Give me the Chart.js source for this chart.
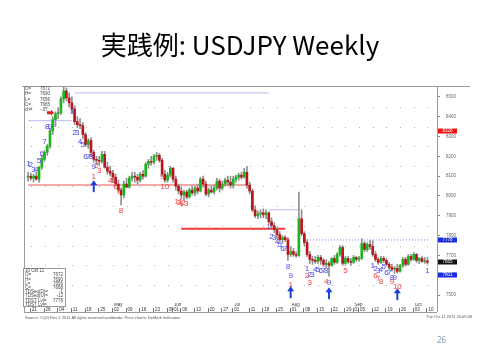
<!DOCTYPE html>
<html><head><meta charset="utf-8">
<script src="https://cdn.jsdelivr.net/npm/chart.js@4"></script>
<style>
html,body{margin:0;padding:0;background:#fff;width:480px;height:360px;overflow:hidden}
#title{position:absolute;left:0;top:31px;width:480px;text-align:center;font-family:"Noto Sans CJK JP";font-size:26px;line-height:26px;color:#000;white-space:nowrap}
#page{position:absolute;left:437px;top:335px;font-family:"Noto Sans";font-size:8px;line-height:10px;color:#8497b0}
canvas{position:absolute;left:0;top:0}
</style></head><body>
<canvas id="c" width="480" height="360"></canvas>
<div id="title">実践例: USDJPY Weekly</div>
<div id="page">26</div>
<script>
const dates = ['3/18','3/21','3/22','3/23','3/24','3/25','3/28','3/29','3/30','3/31','4/1',
'4/4','4/5','4/6','4/7','4/8','4/11','4/12','4/13','4/14','4/15','4/18','4/19','4/20','4/21','4/22','4/25','4/26','4/27','4/28','4/29',
'5/2','5/3','5/4','5/5','5/6','5/9','5/10','5/11','5/12','5/13','5/16','5/17','5/18','5/19','5/20','5/23','5/24','5/25','5/26','5/27','5/30','5/31',
'6/1','6/2','6/3','6/6','6/7','6/8','6/9','6/10','6/13','6/14','6/15','6/16','6/17','6/20','6/21','6/22','6/23','6/24','6/27','6/28','6/29','6/30',
'7/1','7/4','7/5','7/6','7/7','7/8','7/11','7/12','7/13','7/14','7/15','7/18','7/19','7/20','7/21','7/22','7/25','7/26','7/27','7/28','7/29',
'8/1','8/2','8/3','8/4','8/5','8/8','8/9','8/10','8/11','8/12','8/15','8/16','8/17','8/18','8/19','8/22','8/23','8/24','8/25','8/26','8/29','8/30','8/31',
'9/1','9/2','9/5','9/6','9/7','9/8','9/9','9/12','9/13','9/14','9/15','9/16','9/19','9/20','9/21','9/22','9/23','9/26','9/27','9/28','9/29','9/30',
'10/3','10/4','10/5','10/6','10/7','10/10'];
const opens = [80.95,81.00,80.90,81.00,80.85,81.45,81.85,82.20,82.50,83.30,83.85,
84.15,84.20,84.90,85.30,84.95,84.70,84.40,83.75,83.60,83.55,83.10,82.60,82.80,82.20,81.85,81.80,81.75,82.10,81.45,81.25,
81.15,80.95,80.60,80.30,80.05,80.60,80.45,80.90,81.00,80.95,80.80,81.10,81.00,81.60,81.75,81.70,82.00,82.05,81.80,81.10,80.80,81.05,
81.40,80.85,80.50,80.25,80.05,80.20,79.95,80.30,80.15,80.40,80.25,80.85,80.60,80.10,80.30,80.20,80.40,80.75,80.40,80.60,80.80,80.70,
80.55,80.85,80.95,81.05,80.95,81.20,80.55,80.25,79.30,79.00,79.10,79.15,79.05,79.15,78.70,78.50,78.30,78.05,77.80,77.90,77.80,
77.05,77.20,77.05,77.00,78.85,78.10,77.65,77.05,76.80,76.75,76.70,76.90,76.75,76.55,76.60,76.50,76.85,76.65,77.05,77.40,76.60,76.85,76.70,
76.65,76.90,76.80,76.85,77.60,77.30,77.55,77.45,77.05,76.80,76.65,76.85,76.75,76.55,76.40,76.30,76.35,76.20,76.50,76.80,76.55,76.95,
76.80,77.05,76.75,76.85,76.70,76.72];
const highs = [81.20,81.15,81.10,81.20,81.50,82.05,82.30,82.60,83.40,84.00,84.25,
84.45,85.00,85.50,85.45,85.20,85.00,84.55,84.00,83.90,83.70,83.20,82.90,82.95,82.30,82.00,82.00,82.25,82.25,81.70,81.50,
81.30,81.10,80.80,80.40,80.75,80.90,81.00,81.20,81.20,81.10,81.20,81.30,81.70,81.85,82.00,82.10,82.20,82.15,81.90,81.30,81.20,81.50,
81.45,81.00,80.60,80.45,80.30,80.30,80.40,80.50,80.50,80.60,80.95,81.00,80.75,80.40,80.50,80.55,80.90,80.85,80.75,80.90,81.00,81.00,
81.00,81.05,81.15,81.20,81.40,81.50,80.70,80.35,79.50,79.25,79.30,79.35,79.30,79.20,78.90,78.65,78.40,78.20,78.00,78.00,77.90,
77.45,77.35,77.20,80.20,79.30,78.20,77.80,77.20,76.95,76.95,77.00,77.00,76.85,76.80,76.70,76.90,77.00,77.15,77.50,77.50,76.95,76.95,76.85,
77.00,76.95,76.95,77.85,77.70,77.65,77.75,77.75,77.20,76.90,76.95,76.95,76.85,76.65,76.55,76.45,76.55,76.55,76.90,76.90,77.05,77.05,
77.15,77.10,76.90,76.95,76.90,76.90];
const lows = [80.75,80.80,80.70,80.80,80.70,81.35,81.75,82.05,82.40,83.10,83.50,
83.90,84.10,84.70,84.80,84.50,84.20,83.60,83.45,83.40,82.90,82.50,82.40,82.00,81.70,81.60,81.55,81.65,81.40,81.10,81.00,
80.70,80.50,80.20,79.55,79.90,80.40,80.40,80.75,80.70,80.60,80.70,80.85,80.95,81.40,81.55,81.60,81.80,81.70,81.00,80.70,80.70,80.95,
80.70,80.30,80.10,79.85,79.80,79.85,79.90,80.05,80.00,80.10,80.20,80.45,80.00,79.95,80.15,80.10,80.30,80.20,80.30,80.50,80.50,80.40,
80.40,80.70,80.80,80.85,80.90,80.40,80.10,79.20,78.90,78.85,78.90,78.90,78.85,78.60,78.40,78.15,77.85,77.70,77.60,77.70,76.75,
76.95,76.95,76.90,76.95,78.00,77.50,76.95,76.60,76.55,76.60,76.60,76.55,76.45,76.40,75.95,76.45,76.55,76.60,76.95,76.50,76.55,76.60,76.50,
76.60,76.70,76.70,76.80,77.20,77.20,77.30,76.95,76.70,76.55,76.60,76.65,76.50,76.30,76.20,76.10,76.10,76.15,76.40,76.45,76.50,76.70,
76.75,76.65,76.60,76.65,76.60,76.56];
const closes = [81.00,80.90,81.00,80.85,81.45,81.90,82.20,82.50,83.30,83.85,84.15,
84.20,84.90,85.30,84.95,84.70,84.40,83.75,83.60,83.55,83.10,82.60,82.80,82.20,81.85,81.80,81.75,82.10,81.45,81.25,81.15,
80.95,80.60,80.30,80.05,80.60,80.45,80.90,81.00,80.95,80.80,81.10,81.00,81.60,81.75,81.70,82.00,82.05,81.80,81.10,80.80,81.05,81.40,
80.85,80.50,80.25,80.05,80.20,79.95,80.30,80.15,80.40,80.25,80.85,80.60,80.10,80.30,80.20,80.40,80.75,80.40,80.60,80.80,80.70,80.55,
80.85,80.95,81.05,80.95,81.20,80.55,80.25,79.30,79.00,79.10,79.15,79.05,79.15,78.70,78.50,78.30,78.05,77.80,77.90,77.80,77.05,
77.20,77.05,77.00,78.85,78.10,77.65,77.05,76.80,76.75,76.70,76.90,76.75,76.55,76.60,76.50,76.85,76.65,77.05,77.40,76.60,76.85,76.70,76.65,
76.90,76.80,76.85,77.60,77.30,77.55,77.45,77.05,76.80,76.65,76.85,76.75,76.55,76.40,76.30,76.35,76.20,76.50,76.80,76.55,76.95,76.80,
77.05,76.75,76.85,76.70,76.75,76.65];

const padBefore = ['3/17'];
const padAfter = ['10/11','10/12','10/13'];
const categories = [...padBefore, ...dates, ...padAfter];

const yTicks = [75,76,77,78,79,80,81,82,83,84,85];
const dotLevels = [75.5,76.5,77.5,78.5,79.5,80.5,81.5,82.5,83.5,84.5];
const xTickDates = ['3/21','3/28','4/4','4/11','4/18','4/25','5/2','5/9','5/16','5/23','5/30','6/6','6/13','6/20','6/27',
'7/11','7/18','7/25','8/1','8/8','8/15','8/22','8/29','9/5','9/12','9/19','9/26','10/3','10/10'];
const monthDates = ['5/2','6/1','7/1','8/1','9/1','10/3'];
const monthNames = ['May','Jun','Jul','Aug','Sep','Oct'];

// TDST / support-resistance levels
const levelValues = [83.8, 85.2, 80.55, 78.35, 79.3, 77.78];
const levelStarts = ['3/18','4/12','3/18','6/6','7/20','8/9'];
const levelEnds   = ['4/11','7/20','7/8','7/28','8/4','10/11'];

// TD count labels
const tdDates = ['3/18','3/21','3/22','3/23','3/24','3/25','3/28','3/29','3/30',
'4/11','4/12','4/13','4/14','4/15','4/18','4/19','4/20','4/21',
'4/21','4/22','4/25','4/29','5/2','5/3','5/4','5/5','5/26','5/27','6/3','6/6','6/7',
'7/20','7/21','7/22','7/25','7/26','7/27','7/28','7/29','8/1','8/1',
'8/9','8/10','8/11','8/12','8/15','8/16','8/17','8/18','8/19',
'8/9','8/10','8/18','8/29',
'9/12','9/13','9/14','9/15','9/16','9/19','9/20','9/21','9/22',
'9/13','9/14','9/15','9/21','9/23','10/10'];
const tdPrices = [81.6,81.55,81.3,81.3,81.8,82.15,82.75,83.5,83.5,
84.25,83.2,83.2,82.75,82.6,82.0,82.0,82.0,81.45,
80.95,81.5,81.25,80.75,80.75,80.45,80.2,79.25,80.95,80.45,79.7,79.65,79.6,
78.45,77.95,77.9,77.7,77.55,77.35,77.35,76.45,75.95,75.5,
76.35,76.0,76.0,76.3,76.3,76.25,76.2,76.2,75.6,
75.95,75.6,75.65,76.25,
76.5,76.35,76.25,76.3,76.45,76.1,76.1,75.85,75.85,
75.95,75.8,75.65,75.65,75.4,76.25];
const tdTexts = ['1','2','3','4','5','6','7','8','9',
'1','2','3','4','5','6','7','8','9',
'1','2','3','4','5','6','7','8','9','10','11','12','13',
'1','2','3','4','5','6','7','8','9','1',
'1','2','3','4','5','6','7','8','9',
'2','3','4','5',
'1','2','3','4','5','6','7','8','9',
'6','7','8','9','10','1'];
const tdKinds = ['b','b','b','b','b','b','b','b','b',
'b','b','b','b','b','b','b','b','b',
'r','r','r','r','r','r','r','r','r','r','r','r','r',
'b','b','b','b','b','b','b','b','b','r',
'b','b','b','b','b','b','b','b','b',
'r','r','r','r',
'b','b','b','b','b','b','b','b','b',
'r','r','r','r','r','b'];

const arrowDates = ['4/21','8/1','8/19','9/23'];
const arrowTops = [80.8, 75.45, 75.4, 75.35];
const sellArrowDate = '3/30';
const sellArrowPrice = 84.2;

const axisBoxValues = [83.28, 77.78, 76.65, 76.01];
const axisBoxTexts = ['8328','7778','7665','7601'];

const infoTop = [['O=','7672'],['H=','7690'],['L=','7656'],['C=','7665'],['ch=','-.07']];
const infoBottom = [['10 Oct 11',''],['O=','7672'],['H=','7690'],['L=','7656'],['C=','7668'],['TDSeq(D)=','-1'],['TDSeq(U)=','-12'],['TDST Lvl=','7778'],['TDST Lvl=','']];

const idx = d => categories.indexOf(d);

const overlay = {
  id: 'overlay',
  beforeDatasetsDraw(chart) {
    const {ctx, scales: {x, y}} = chart;
    ctx.save();
    ctx.fillStyle = '#b0b0b0';
    for (const d of xTickDates) {
      const px = Math.round(x.getPixelForValue(idx(d)));
      for (const v of dotLevels) {
        ctx.fillRect(px, Math.round(y.getPixelForValue(v)), 1, 1);
      }
    }
    ctx.restore();
  },
  afterDatasetsDraw(chart) {
    const {ctx, chartArea: a, scales: {x, y}} = chart;
    ctx.save();
    // frame
    ctx.strokeStyle = '#9a9a9a'; ctx.lineWidth = 1;
    ctx.beginPath();
    ctx.moveTo(22, a.top + 0.5); ctx.lineTo(470, a.top + 0.5);
    ctx.moveTo(a.left + 0.5, a.top); ctx.lineTo(a.left + 0.5, 312);
    ctx.moveTo(a.left, 312.5); ctx.lineTo(a.right, 312.5);
    ctx.moveTo(a.right + 0.5, a.top); ctx.lineTo(a.right + 0.5, 312);
    ctx.stroke();
    // x tick separators
    ctx.strokeStyle = '#777';
    ctx.beginPath();
    for (const d of [...xTickDates, ...monthDates]) {
      const px = Math.round(x.getPixelForValue(idx(d))) - 0.5;
      ctx.moveTo(px, a.bottom + 5); ctx.lineTo(px, 312);
    }
    ctx.stroke();
    // TD numbers
    ctx.font = '8px "Liberation Sans", Arial, sans-serif';
    ctx.textAlign = 'center'; ctx.textBaseline = 'middle';
    tdDates.forEach((d, i) => {
      ctx.fillStyle = tdKinds[i] === 'b' ? '#4a4af0' : '#f23c3c';
      ctx.fillText(tdTexts[i], x.getPixelForValue(idx(d)), y.getPixelForValue(tdPrices[i]));
    });
    // buy arrows
    ctx.fillStyle = '#1f3fd6'; ctx.strokeStyle = '#1f3fd6';
    arrowDates.forEach((d, i) => {
      const px = x.getPixelForValue(idx(d));
      const py = y.getPixelForValue(arrowTops[i]);
      ctx.beginPath();
      ctx.moveTo(px, py); ctx.lineTo(px - 3.5, py + 5); ctx.lineTo(px + 3.5, py + 5); ctx.closePath();
      ctx.fill();
      ctx.fillRect(px - 1, py + 4, 2, 8);
    });
    // sell arrow
    {
      const px = x.getPixelForValue(idx(sellArrowDate));
      const py = y.getPixelForValue(sellArrowPrice);
      ctx.fillStyle = '#e02020';
      ctx.fillRect(px - 3, py - 1.5, 4, 3);
      ctx.beginPath(); ctx.moveTo(px + 1, py - 3); ctx.lineTo(px + 4, py); ctx.lineTo(px + 1, py + 3); ctx.closePath(); ctx.fill();
    }
    // axis value boxes
    const boxColors = ['#ee1111', '#1a2ee0', '#111111', '#1a2ee0'];
    ctx.font = '4.5px "Liberation Sans", Arial, sans-serif';
    ctx.textAlign = 'center';
    axisBoxValues.forEach((v, i) => {
      const py = Math.round(y.getPixelForValue(v));
      ctx.fillStyle = boxColors[i];
      ctx.fillRect(a.right + 1, py - 2.5, 19, 5);
      ctx.fillStyle = '#fff';
      ctx.fillText(axisBoxTexts[i], a.right + 10.5, py);
    });
    // info text top-left
    ctx.fillStyle = '#444'; ctx.textAlign = 'left';
    ctx.font = '4.5px "Liberation Sans", Arial, sans-serif';
    infoTop.forEach((r, i) => {
      ctx.fillText(r[0], a.left + 1, a.top + 3 + i * 5.2);
      ctx.fillText(r[1], a.left + 16, a.top + 3 + i * 5.2);
    });
    // info box bottom-left
    ctx.fillStyle = '#fff'; ctx.strokeStyle = '#999';
    ctx.fillRect(23, 268, 42, 38); ctx.strokeRect(23.5, 268.5, 42, 38);
    ctx.fillStyle = '#444';
    infoBottom.forEach((r, i) => {
      ctx.textAlign = 'left';
      ctx.fillText(r[0], 25, 271 + i * 4.2);
      ctx.textAlign = 'right';
      ctx.fillText(r[1], 63, 271 + i * 4.2);
    });
    // source
    ctx.fillStyle = '#555'; ctx.textAlign = 'left';
    ctx.font = '4px "Liberation Sans", Arial, sans-serif';
    ctx.fillText('Source: CQG Rev 1 2011 All rights reserved worldwide. Price charts: DeMark Indicators', 25, 318);
    ctx.textAlign = 'right';
    ctx.fillText('Tue Oct 11 2011 20:09:48', 472, 317);
    ctx.restore();
  }
};

const lineStyles = [
  {c:'#b9b9ee', w:1, dash:[]},
  {c:'#b9b9ee', w:1, dash:[]},
  {c:'#f5a8a8', w:2, dash:[]},
  {c:'#ef3b3b', w:2, dash:[]},
  {c:'#b9b9ee', w:1, dash:[]},
  {c:'#7d7de8', w:1, dash:[1,2]}
];
const levelSets = levelValues.map((v, i) => ({
  type: 'line',
  data: [{x: levelStarts[i], y: v}, {x: levelEnds[i], y: v}],
  borderColor: lineStyles[i].c,
  borderWidth: lineStyles[i].w,
  borderDash: lineStyles[i].dash,
  pointRadius: 0,
  order: 10
}));

new Chart(document.getElementById('c'), {
  type: 'bar',
  data: {
    labels: categories,
    datasets: [
      ...levelSets,
      {
        type: 'bar',
        data: dates.map((d, i) => ({x: d, y: [lows[i], highs[i]]})),
        backgroundColor: '#8f8f8f',
        barThickness: 1,
        grouped: false,
        order: 2
      },
      {
        type: 'bar',
        data: dates.map((d, i) => ({x: d, y: [opens[i], closes[i]]})),
        backgroundColor: dates.map((d, i) => closes[i] >= opens[i] ? '#1cb41c' : '#b8151c'),
        barThickness: 2,
        minBarLength: 1,
        grouped: false,
        order: 1
      }
    ]
  },
  options: {
    responsive: false,
    animation: false,
    layout: {padding: {left: 24, top: 86, right: 0, bottom: 0}},
    plugins: {legend: {display: false}, tooltip: {enabled: false}, title: {display: false}},
    scales: {
      x: {
        type: 'category',
        offset: true,
        afterFit: s => { s.height = 57; },
        grid: {display: false, drawTicks: false},
        border: {display: false},
        ticks: {
          autoSkip: false, maxRotation: 0, minRotation: 0, align: 'start', padding: 0, labelOffset: 1,
          font: {size: 4.5, family: '"Liberation Sans", Arial, sans-serif', lineHeight: 1},
          color: '#333',
          callback: (val, i) => {
            const d = categories[i];
            const mi = monthDates.indexOf(d);
            if (!xTickDates.includes(d) && mi < 0) return '';
            return [mi >= 0 ? monthNames[mi] : '', d.split('/')[1].padStart(2, '0')];
          }
        }
      },
      y: {
        position: 'right',
        min: 74.6, max: 85.55,
        afterFit: s => { s.width = 43; },
        afterBuildTicks: s => { s.ticks = yTicks.map(v => ({value: v})); },
        grid: {drawOnChartArea: false, tickLength: 3, color: '#888'},
        border: {color: '#888'},
        ticks: {
          padding: 6, color: '#6a6a6a',
          font: {size: 4.5, family: '"Liberation Sans", Arial, sans-serif'},
          callback: v => String(Math.round(v * 100))
        }
      }
    }
  },
  plugins: [overlay]
});
</script></body></html>
